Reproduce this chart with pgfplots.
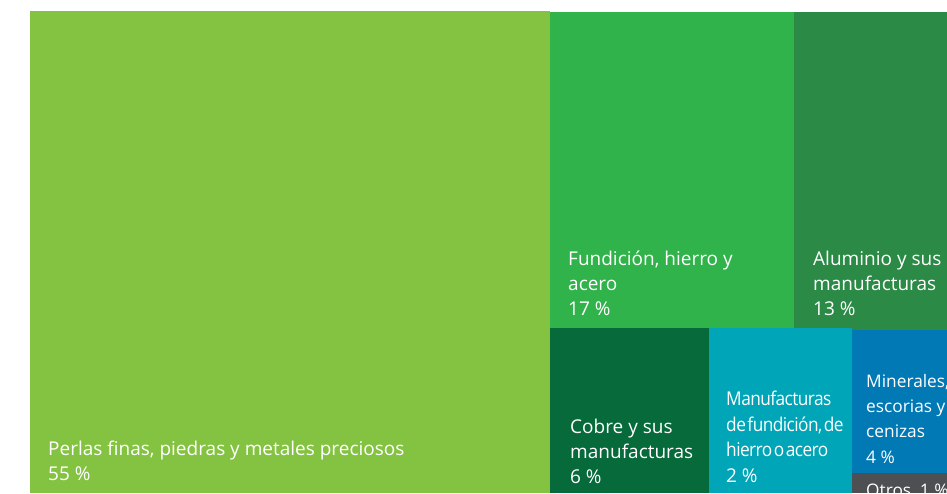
\documentclass[border=0pt]{standalone}
\usepackage{fontspec}
\setmainfont{Open Sans}
\newfontfamily\condfont{Open Sans}[FakeStretch=0.91,LetterSpace=-3,WordSpace=0.4]
\usepackage{pgfplots}
\pgfplotsset{compat=1.18}

\definecolor{cPerlas}{HTML}{84C341}
\definecolor{cFund}{HTML}{30B34A}
\definecolor{cAlum}{HTML}{2B8A45}
\definecolor{cCobre}{HTML}{066A3A}
\definecolor{cManuf}{HTML}{00A5B8}
\definecolor{cMiner}{HTML}{0079B5}
\definecolor{cOtros}{HTML}{4D4F53}

% one line of a label, left aligned on its baseline
\newcommand{\lbl}[3]{\node[anchor=base west, inner sep=0pt, text=white,
  font=\fontsize{19}{22}\selectfont] at (axis cs:#1,#2) {#3};}
\newcommand{\clbl}[3]{\node[anchor=base west, inner sep=0pt, text=white,
  font=\condfont\fontsize{19}{22}\selectfont] at (axis cs:#1,#2) {#3};}
\newcommand{\slbl}[3]{\node[anchor=base west, inner sep=0pt, text=white,
  font=\fontsize{17.3}{20}\selectfont] at (axis cs:#1,#2) {#3};}

\begin{document}
\begin{tikzpicture}
\begin{axis}[
  width=947pt, height=493pt, scale only axis,
  xmin=0, xmax=947, ymin=0, ymax=493, y dir=reverse,
  hide axis, clip=true,
]
% treemap tiles (pixel boxes of the reference)
\addplot[fill=cPerlas, draw=none] coordinates {(30,11) (550,11) (550,493) (30,493)} -- cycle;
\addplot[fill=cFund, draw=none] coordinates {(550,12) (794,12) (794,328) (550,328)} -- cycle;
\addplot[fill=cAlum, draw=none] coordinates {(794,12) (947,12) (947,330) (794,330)} -- cycle;
\addplot[fill=cCobre, draw=none] coordinates {(550,328) (709,328) (709,493) (550,493)} -- cycle;
\addplot[fill=cManuf, draw=none] coordinates {(709,328) (852,328) (852,493) (709,493)} -- cycle;
\addplot[fill=cMiner, draw=none] coordinates {(852,330) (947,330) (947,473) (852,473)} -- cycle;
\addplot[fill=cOtros, draw=none] coordinates {(852,473) (947,473) (947,493) (852,493)} -- cycle;

\lbl{48}{455}{Perlas finas, piedras y metales preciosos}
\lbl{48}{480}{55 \%}

\lbl{568}{265}{Fundición, hierro y}
\lbl{568}{290}{acero}
\lbl{568}{315}{17 \%}

\lbl{813}{265}{Aluminio y sus}
\lbl{813}{290}{manufacturas}
\lbl{813}{315}{13 \%}

\lbl{570}{433}{Cobre y sus}
\lbl{570}{458}{manufacturas}
\lbl{570}{483}{6 \%}

\clbl{726}{405}{Manufacturas}
\clbl{726}{431}{de fundición, de}
\clbl{726}{456}{hierro o acero}
\lbl{726}{482}{2 \%}

\slbl{866}{387}{Minerales,}
\slbl{866}{412}{escorias y}
\slbl{866}{437}{cenizas}
\slbl{866}{463}{4 \%}

\slbl{866}{496}{Otros, 1 \%}
\end{axis}
\pgfresetboundingbox
\path (current axis.south west) rectangle (current axis.north east);
\end{tikzpicture}
\end{document}
